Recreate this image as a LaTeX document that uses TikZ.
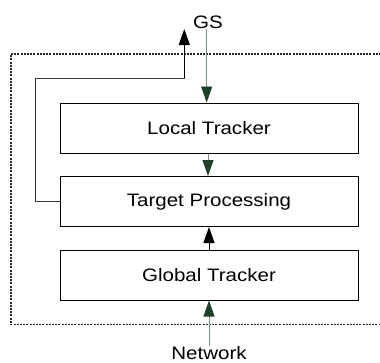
\documentclass[tikz,border=0pt]{standalone}
\usepackage{fontspec}
\setmainfont{Liberation Sans}[FakeStretch=1.14]
\usetikzlibrary{arrows.meta}
\definecolor{gline}{HTML}{7A937E}
\definecolor{ghead}{HTML}{1E4228}
\tikzset{
  blk/.style={draw=black, line width=1pt, minimum width=298pt, minimum height=50pt, inner sep=0pt, font=\fontsize{18pt}{21pt}\selectfont},
  lbl/.style={inner sep=0pt, font=\fontsize{18pt}{21pt}\selectfont},
  garrow/.style={draw=gline, line width=0.9pt, -{Triangle[length=16pt,width=11pt,fill=ghead,color=ghead]}},
  barrow/.style={draw=black, line width=0.9pt, -{Triangle[length=16pt,width=11pt]}},
  fbline/.style={draw=black!80, line width=0.9pt},
  frame/.style={draw=black!85, line width=1.4pt, dash pattern=on 2pt off 1.2pt}
}
\begin{document}
\begin{tikzpicture}[x=1pt,y=-1pt]
\useasboundingbox (0,0) rectangle (380,362);
\draw[frame] (381,54) -- (11,54) -- (11,324.5) -- (381,324.5);
\node[blk] (lt) at (209,128) {Local Tracker};
\node[blk] (tp) at (209,201.5) {Target Processing};
\node[blk] (gt) at (209,275) {Global Tracker};
\node[lbl, anchor=base] (gs) at (208,28) {GS};
\node[lbl, anchor=base] (net) at (209,359) {Network};
\coordinate (gsend) at (206.7,29);
\coordinate (netend) at (209,346);
\coordinate (fb1) at (35.7,201.5);
\coordinate (fb2) at (35.7,78.3);
\coordinate (fb3) at (184.3,78.3);
\coordinate (fbtip) at (184.3,29);
\draw[garrow] (gsend) -- (gsend |- lt.north);
\draw[garrow] (lt.south -| 208,0) -- (tp.north -| 208,0);
\draw[barrow] (gt.north -| 209,0) -- (tp.south -| 209,0);
\draw[garrow] (netend) -- (gt.south -| netend);
\draw[fbline] (tp.west) -- (fb1) -- (fb2) -- (fb3) -- (fb3 |- 0,48);
\draw[barrow] (fb3) -- (fbtip);
\end{tikzpicture}
\end{document}
